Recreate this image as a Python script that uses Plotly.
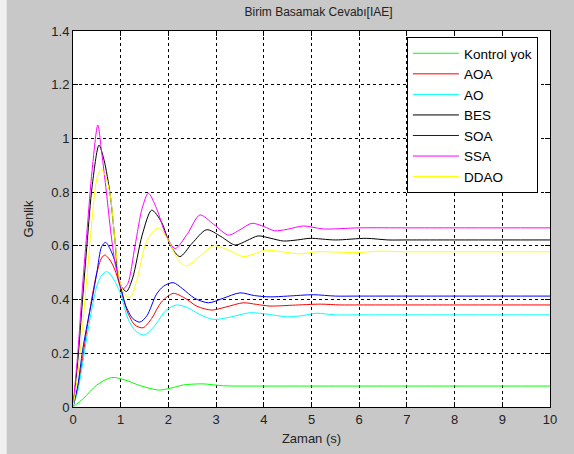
import plotly.graph_objects as go

# ---- data ----
series_names = ["Kontrol yok", "AOA", "AO", "BES", "SOA", "SSA", "DDAO"]

t_kontrol = [0, 0.22, 0.5, 0.81, 1.1, 1.4, 1.79, 2.05, 2.31, 2.73, 3.15, 4, 5, 6, 7, 8, 9, 10]
v_kontrol = [0, 0.032, 0.082, 0.11, 0.1, 0.08, 0.063, 0.07, 0.082, 0.086, 0.079, 0.078, 0.078, 0.078, 0.078, 0.078, 0.078, 0.078]

t_aoa = [0, 0.1, 0.2, 0.3, 0.4, 0.5, 0.6, 0.67, 0.8, 0.9, 1.0, 1.15, 1.3, 1.47, 1.65, 1.85, 2.1, 2.35, 2.6, 2.91, 3.2, 3.57, 3.85, 4.13, 4.6, 5.18, 5.6, 6, 7, 8, 9, 10]
v_aoa = [0, 0.07, 0.18, 0.3, 0.41, 0.5, 0.555, 0.566, 0.54, 0.5, 0.44, 0.35, 0.305, 0.295, 0.33, 0.39, 0.423, 0.405, 0.375, 0.361, 0.372, 0.388, 0.382, 0.376, 0.379, 0.383, 0.38, 0.38, 0.38, 0.38, 0.38, 0.38]

t_ao = [0, 0.1, 0.2, 0.3, 0.4, 0.5, 0.6, 0.705, 0.8, 0.9, 1.0, 1.15, 1.3, 1.49, 1.7, 1.95, 2.17, 2.4, 2.65, 2.94, 3.3, 3.71, 4.1, 4.48, 4.8, 5.1, 5.5, 6, 7, 8, 9, 10]
v_ao = [0, 0.06, 0.16, 0.27, 0.37, 0.45, 0.49, 0.504, 0.49, 0.46, 0.42, 0.33, 0.285, 0.268, 0.3, 0.36, 0.38, 0.37, 0.345, 0.326, 0.335, 0.351, 0.345, 0.336, 0.34, 0.349, 0.343, 0.343, 0.343, 0.343, 0.343, 0.343]

t_bes = [0, 0.1, 0.2, 0.3, 0.4, 0.545, 0.65, 0.78, 0.88, 0.98, 1.12, 1.25, 1.45, 1.65, 1.85, 2.05, 2.24, 2.5, 2.8, 3.1, 3.4, 3.65, 3.88, 4.15, 4.41, 4.7, 4.97, 5.5, 6.15, 6.6, 7, 8, 9, 10]
v_bes = [0, 0.17, 0.40, 0.62, 0.82, 0.975, 0.92, 0.79, 0.62, 0.46, 0.43, 0.48, 0.64, 0.733, 0.69, 0.6, 0.56, 0.61, 0.66, 0.635, 0.603, 0.62, 0.637, 0.628, 0.618, 0.622, 0.628, 0.622, 0.628, 0.622, 0.622, 0.622, 0.622, 0.622]

t_soa = [0, 0.1, 0.2, 0.3, 0.4, 0.5, 0.6, 0.685, 0.8, 0.9, 1.0, 1.1, 1.25, 1.4, 1.55, 1.75, 1.9, 2.1, 2.3, 2.55, 2.84, 3.15, 3.5, 3.8, 4.13, 4.5, 5.04, 5.5, 6, 7, 8, 9, 10]
v_soa = [0, 0.08, 0.21, 0.31, 0.40, 0.50, 0.597, 0.613, 0.58, 0.53, 0.45, 0.38, 0.33, 0.316, 0.34, 0.42, 0.45, 0.463, 0.44, 0.405, 0.388, 0.405, 0.425, 0.415, 0.41, 0.413, 0.418, 0.413, 0.413, 0.413, 0.413, 0.413, 0.413]

t_ssa = [0, 0.1, 0.2, 0.3, 0.4, 0.52, 0.6, 0.7, 0.8, 0.9, 1.05, 1.15, 1.3, 1.45, 1.58, 1.75, 1.95, 2.14, 2.4, 2.66, 2.95, 3.26, 3.5, 3.75, 4.0, 4.23, 4.5, 4.83, 5.25, 6, 7, 8, 9, 10]
v_ssa = [0, 0.2, 0.45, 0.67, 0.88, 1.05, 0.95, 0.8, 0.64, 0.52, 0.44, 0.46, 0.6, 0.74, 0.796, 0.74, 0.64, 0.59, 0.645, 0.715, 0.68, 0.64, 0.66, 0.684, 0.672, 0.656, 0.662, 0.674, 0.663, 0.667, 0.667, 0.667, 0.667, 0.667]

t_ddao = [0, 0.1, 0.2, 0.3, 0.4, 0.5, 0.587, 0.68, 0.78, 0.88, 0.98, 1.1, 1.2, 1.35, 1.55, 1.79, 2.0, 2.2, 2.38, 2.65, 2.94, 3.25, 3.57, 3.8, 4.02, 4.3, 4.76, 5.1, 5.95, 6.4, 7, 8, 9, 10]
v_ddao = [0, 0.12, 0.3, 0.5, 0.7, 0.85, 0.885, 0.86, 0.79, 0.62, 0.47, 0.415, 0.408, 0.48, 0.62, 0.667, 0.62, 0.55, 0.525, 0.56, 0.60, 0.585, 0.56, 0.57, 0.584, 0.58, 0.57, 0.578, 0.575, 0.58, 0.578, 0.578, 0.578, 0.578]

x_ticks = [0, 1, 2, 3, 4, 5, 6, 7, 8, 9, 10]
y_ticks = [0, 0.2, 0.4, 0.6, 0.8, 1.0, 1.2, 1.4]
y_tick_labels = ["0", "0.2", "0.4", "0.6", "0.8", "1", "1.2", "1.4"]

title_text = "Birim Basamak Cevabı[IAE]"
x_title = "Zaman (s)"
y_title = "Genlik"

series_t = [t_kontrol, t_aoa, t_ao, t_bes, t_soa, t_ssa, t_ddao]
series_v = [v_kontrol, v_aoa, v_ao, v_bes, v_soa, v_ssa, v_ddao]
colors = ["#00ff00", "#ff0000", "#00ffff", "#000000", "#0000ff", "#ff00ff", "#ffff00"]

FONT = "Liberation Sans, Arial"

fig = go.Figure()
for name, tt, vv, c in zip(series_names, series_t, series_v, colors):
    fig.add_trace(go.Scatter(x=tt, y=vv, mode="lines", name=name,
                             line=dict(color=c, width=1, shape="spline", smoothing=0.8)))

axis_common = dict(
    showline=True, linecolor="black", linewidth=1, mirror="allticks",
    ticks="inside", ticklen=5, tickcolor="black",
    showgrid=True, gridcolor="black", gridwidth=1, griddash="3px,3px",
    zeroline=False, automargin=False,
    tickfont=dict(family=FONT, size=13, color="#222222"),
)

fig.update_xaxes(range=[0, 10], tickvals=x_ticks,
                 title=dict(text=x_title, standoff=8, font=dict(family=FONT, size=13, color="#222222")),
                 **axis_common)
fig.update_yaxes(range=[0, 1.4], tickvals=y_ticks, ticktext=y_tick_labels,
                 title=dict(text=y_title, standoff=14, font=dict(family=FONT, size=13, color="#222222")),
                 **axis_common)

fig.update_layout(
    width=574, height=454,
    margin=dict(l=73, r=24, t=31, b=47),
    paper_bgcolor="#c8c8c8",
    plot_bgcolor="white",
    title=dict(text=title_text, x=0.555, xanchor="center", y=0.973, yanchor="middle",
               font=dict(family=FONT, size=12, color="#222222")),
    legend=dict(x=0.70, y=0.984, xanchor="left", yanchor="top",
                bgcolor="white", bordercolor="black", borderwidth=1,
                font=dict(family=FONT, size=13.5, color="black"),
                itemwidth=46, tracegroupgap=0),
    showlegend=True,
    shapes=[dict(type="rect", xref="paper", yref="paper", x0=-0.2, x1=-0.139, y0=-0.2, y1=1.2,
                 fillcolor="#f0f0f0", line=dict(width=0), layer="above")],
)

fig.write_html("out.html", config={"displayModeBar": False},
               post_script="document.body.style.margin='0';document.body.style.padding='0';")
